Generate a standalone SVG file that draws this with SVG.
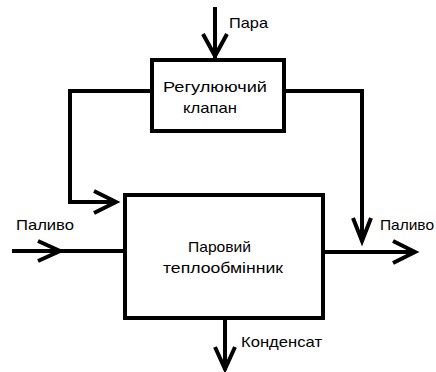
<svg xmlns="http://www.w3.org/2000/svg" width="436" height="372" viewBox="0 0 436 372">
<style>
.box{fill:#fff;stroke:#000;stroke-width:4}
.ln{fill:none;stroke:#000;stroke-width:4;stroke-linejoin:miter}
.hd{fill:none;stroke:#000;stroke-width:4;stroke-linejoin:miter;stroke-miterlimit:10}
.t{font-family:'Liberation Sans',Arial,sans-serif;font-size:15px;fill:#000}
</style>
<rect width="436" height="372" fill="#fff"/>
<g id="connectors">
<line class="ln" x1="215" y1="7" x2="215" y2="58"/>
<polyline class="hd" points="203,34 215,56 227,34"/>
<polyline class="ln" points="153,91 70,91 70,202 116,202"/>
<polyline class="hd" points="94,191 116,202 94,213"/>
<polyline class="ln" points="285,91 362,91 362,241"/>
<polyline class="hd" points="353,218 362,241 371,218"/>
<line class="ln" x1="12" y1="251" x2="125" y2="251"/>
<polyline class="hd" points="38,241 60,251 38,261"/>
<line class="ln" x1="323" y1="252" x2="415" y2="252"/>
<polyline class="hd" points="393,241 415,252 393,263"/>
<line class="ln" x1="225" y1="318" x2="225" y2="370"/>
<polyline class="hd" points="215,347 225,369 235,347"/>
</g>
<g id="valve">
<rect class="box" x="152" y="60" width="132" height="71"/>
<text class="t" x="163" y="92" textLength="104" lengthAdjust="spacingAndGlyphs">Регулюючий</text>
<text class="t" x="183" y="113" textLength="54" lengthAdjust="spacingAndGlyphs">клапан</text>
</g>
<g id="exchanger">
<rect class="box" x="125" y="195" width="198" height="123"/>
<text class="t" x="188" y="252" textLength="63" lengthAdjust="spacingAndGlyphs">Паровий</text>
<text class="t" x="163" y="273" textLength="120" lengthAdjust="spacingAndGlyphs">теплообмінник</text>
</g>
<g id="labels">
<text class="t" x="229" y="28" textLength="39" lengthAdjust="spacingAndGlyphs">Пара</text>
<text class="t" x="16" y="230" textLength="58" lengthAdjust="spacingAndGlyphs">Паливо</text>
<text class="t" x="380" y="230" textLength="54" lengthAdjust="spacingAndGlyphs">Паливо</text>
<text class="t" x="241" y="347" textLength="81" lengthAdjust="spacingAndGlyphs">Конденсат</text>
</g>
</svg>
